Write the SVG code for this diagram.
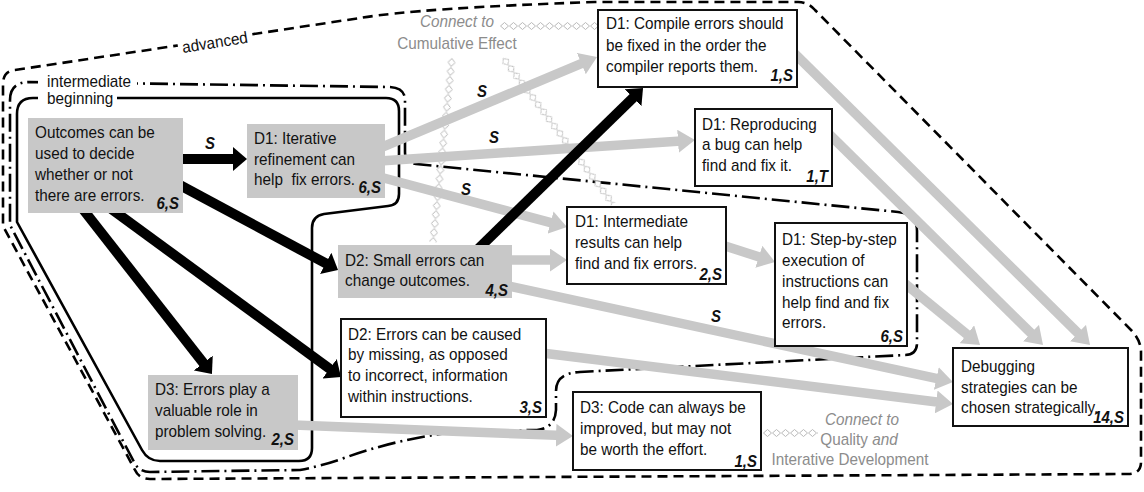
<svg xmlns="http://www.w3.org/2000/svg" width="1144" height="492" viewBox="0 0 1144 492">
<style>
.t{font-family:"Liberation Sans",Arial,sans-serif;font-size:15.3px;fill:#111}
.lb{font-family:"Liberation Sans",Arial,sans-serif;font-size:15px;font-weight:bold;font-style:italic;fill:#111}
.cn{font-family:"Liberation Sans",Arial,sans-serif;font-size:15.3px;fill:#8c8c8c}
.it{font-style:italic}
.gb{fill:#c8c8c8}
.wb{fill:#fff;stroke:#111;stroke-width:2}
.ga{stroke:#c8c8c8;stroke-width:9.5;fill:none;marker-end:url(#ag)}
.ba{stroke:#000;stroke-width:10;fill:none;marker-end:url(#ab)}
.reg{fill:none;stroke:#000;stroke-width:2.6}
</style>
<defs>
<marker id="ag" markerUnits="userSpaceOnUse" markerWidth="17" markerHeight="23" viewBox="0 0 17 23" refX="7" refY="11.5" orient="auto"><path d="M0,0 L17,11.5 L0,23 Z" fill="#c8c8c8"/></marker>
<marker id="ab" markerUnits="userSpaceOnUse" markerWidth="14" markerHeight="24" viewBox="0 0 14 24" refX="5" refY="12" orient="auto"><path d="M0,0 L14,12 L0,24 Z" fill="#000"/></marker>
<pattern id="dia" patternUnits="userSpaceOnUse" width="9" height="8" y="-4"><path d="M0.5,4 L4.5,0.5 L8.5,4 L4.5,7.5 Z" fill="#fff" stroke="#b8b8b8" stroke-width="1"/></pattern>
</defs>

<g id="regions">
<path id="advanced" class="reg" stroke-dasharray="10 6" stroke-width="2.8" d="M 15 70 L 360 18 Q 420 8 595 2 H 798 Q 808 2 815 10 L 1132 331 Q 1141 341 1141 352 V 462 Q 1141 474 1128 474 L 150 479 Q 139 479 135 470 L 3 226 V 84 Q 3 71 15 70 Z"/>
<path id="intermediate" class="reg" stroke-dasharray="18 5 2 5" d="M 30 82 L 390 87 Q 405 88 405 100 V 152 Q 405 163 416 164 L 898 212 Q 917 214 917 231 V 343 Q 917 355 905 355 L 580 372 Q 556 373 556 391 V 410 Q 555 428 537 430 L 463 431 Q 400 438 347 457 Q 322 466 300 470 L 150 472 Q 139 472 134 462 L 10 225 V 100 Q 10 82 30 82"/>
<path id="beginning" class="reg" d="M 33 98 H 386 Q 399 98 399 111 V 194 Q 399 205 388 206 L 324 214 Q 312 216 312 228 V 448 Q 312 461 299 461 H 160 Q 148 461 142 450 L 17 222 V 114 Q 17 98 33 98 Z"/>
<g transform="translate(183,53) rotate(-9)"><rect x="-4" y="-15" width="74" height="20" fill="#fff"/><text class="t" x="0" y="0" transform="scale(1,1.07)">advanced</text></g>
<rect x="38" y="73" width="99" height="18" fill="#fff"/>
<rect x="38" y="90" width="79" height="19" fill="#fff"/>
<g transform="scale(1,1.07)">
<text class="t" x="47" y="81.31">intermediate</text>
<text class="t" x="47" y="97.2">beginning</text>
</g>
</g>

<g id="connect-links">
<rect transform="translate(500,26)" x="0" y="-4" width="97" height="8" fill="url(#dia)"/>
<rect transform="translate(452,58) rotate(95.9)" x="0" y="-4" width="185" height="8" fill="url(#dia)"/>
<rect transform="translate(503,58) rotate(53)" x="0" y="-4" width="183" height="8" fill="url(#dia)"/>
<rect transform="translate(763,433)" x="0" y="-4" width="55" height="8" fill="url(#dia)"/>
</g>

<g id="connectors">
<line class="ga" x1="380" y1="148" x2="587.8" y2="60.9"/>
<line class="ga" x1="380" y1="161" x2="685" y2="140.7"/>
<line class="ga" x1="380" y1="177" x2="557.3" y2="224.4"/>
<line class="ga" x1="508" y1="260" x2="557" y2="260"/>
<line class="ga" x1="508" y1="286" x2="943.2" y2="379.9"/>
<line class="ga" x1="542" y1="353" x2="943.1" y2="402.8"/>
<line class="ga" x1="294" y1="425" x2="563" y2="435.6"/>
<line class="ga" x1="722" y1="245" x2="765.5" y2="258.9"/>
<line class="ga" x1="903" y1="282" x2="972.3" y2="338.7"/>
<line class="ga" x1="828" y1="133" x2="1035.9" y2="338"/>
<line class="ga" x1="793" y1="52" x2="1082.9" y2="338"/>
<line class="ba" x1="180" y1="159" x2="238" y2="159"/>
<line class="ba" x1="176" y1="183" x2="330.1" y2="265.7"/>
<line class="ba" x1="110" y1="208" x2="333.7" y2="371.7"/>
<line class="ba" x1="82" y1="208" x2="206.4" y2="366.9"/>
<line class="ba" x1="477" y1="250" x2="636.6" y2="94.3"/>
<g transform="scale(1,1.07)">
<text class="lb" x="210" y="139.25" text-anchor="middle">S</text>
<text class="lb" x="482" y="90.65" text-anchor="middle">S</text>
<text class="lb" x="494" y="133.64" text-anchor="middle">S</text>
<text class="lb" x="466" y="182.24" text-anchor="middle">S</text>
<text class="lb" x="716" y="300.93" text-anchor="middle">S</text>
</g>
</g>

<g id="n1"><rect class="gb" x="28" y="118" width="155" height="95"/>
<g transform="scale(1,1.07)"><text class="t"><tspan x="35" y="128.97">Outcomes can be</tspan><tspan x="35" y="148.6">used to decide</tspan><tspan x="35" y="168.22">whether or not</tspan><tspan x="35" y="187.85">there are errors.</tspan></text>
<text class="lb" x="179" y="195.33" text-anchor="end">6,S</text></g></g>

<g id="n2"><rect class="gb" x="247" y="124" width="138" height="74"/>
<g transform="scale(1,1.07)"><text class="t"><tspan x="254" y="134.58">D1: Iterative</tspan><tspan x="254" y="154.21">refinement can</tspan><tspan x="254" y="172.9">help&#160; fix errors.</tspan></text>
<text class="lb" x="381" y="180.37" text-anchor="end">6,S</text></g></g>

<g id="n3"><rect class="wb" x="598" y="10" width="199" height="77"/>
<g transform="scale(1,1.07)"><text class="t"><tspan x="606" y="27.1">D1: Compile errors should</tspan><tspan x="606" y="47.66">be fixed in the order the</tspan><tspan x="606" y="67.29">compiler reports them.</tspan></text>
<text class="lb" x="793" y="75.7" text-anchor="end">1,S</text></g></g>

<g id="n4"><rect class="wb" x="695" y="109" width="137" height="77"/>
<g transform="scale(1,1.07)"><text class="t"><tspan x="702" y="121.5">D1: Reproducing</tspan><tspan x="702" y="140.19">a bug can help</tspan><tspan x="702" y="159.81">find and fix it.</tspan></text>
<text class="lb" x="828" y="170.09" text-anchor="end">1,T</text></g></g>

<g id="n5"><rect class="wb" x="567" y="207" width="159" height="77"/>
<g transform="scale(1,1.07)"><text class="t"><tspan x="575" y="212.15">D1: Intermediate</tspan><tspan x="575" y="231.78">results can help</tspan><tspan x="575" y="251.4">find and fix errors.</tspan></text>
<text class="lb" x="722" y="261.68" text-anchor="end">2,S</text></g></g>

<g id="n6"><rect class="wb" x="775" y="223" width="132" height="123"/>
<g transform="scale(1,1.07)"><text class="t"><tspan x="782" y="228.97">D1: Step-by-step</tspan><tspan x="782" y="248.6">execution of</tspan><tspan x="782" y="268.22">instructions can</tspan><tspan x="782" y="287.85">help find and fix</tspan><tspan x="782" y="306.54">errors.</tspan></text>
<text class="lb" x="903" y="319.63" text-anchor="end">6,S</text></g></g>

<g id="n7"><rect class="wb" x="953" y="348" width="175" height="78"/>
<g transform="scale(1,1.07)"><text class="t"><tspan x="961" y="347.66">Debugging</tspan><tspan x="961" y="367.29">strategies can be</tspan><tspan x="961" y="385.98">chosen strategically.</tspan></text>
<text class="lb" x="1124" y="395.33" text-anchor="end">14,S</text></g></g>

<g id="n8"><rect class="gb" x="338" y="245" width="174" height="53"/>
<g transform="scale(1,1.07)"><text class="t"><tspan x="345" y="248.6">D2: Small errors can</tspan><tspan x="345" y="267.29">change outcomes.</tspan></text>
<text class="lb" x="508" y="276.64" text-anchor="end">4,S</text></g></g>

<g id="n9"><rect class="wb" x="341" y="319" width="205" height="98"/>
<g transform="scale(1,1.07)"><text class="t"><tspan x="348" y="317.76">D2: Errors can be caused</tspan><tspan x="348" y="336.45">by missing, as opposed</tspan><tspan x="348" y="356.07">to incorrect, information</tspan><tspan x="348" y="375.7">within instructions.</tspan></text>
<text class="lb" x="542" y="385.98" text-anchor="end">3,S</text></g></g>

<g id="n10"><rect class="gb" x="148" y="375" width="150" height="75"/>
<g transform="scale(1,1.07)"><text class="t"><tspan x="155" y="369.16">D3: Errors play a</tspan><tspan x="155" y="388.79">valuable role in</tspan><tspan x="155" y="408.41">problem solving.</tspan></text>
<text class="lb" x="294" y="415.89" text-anchor="end">2,S</text></g></g>

<g id="n11"><rect class="wb" x="573" y="392" width="188" height="78"/>
<g transform="scale(1,1.07)"><text class="t"><tspan x="580" y="385.98">D3: Code can always be</tspan><tspan x="580" y="405.61">improved, but may not</tspan><tspan x="580" y="425.23">be worth the effort.</tspan></text>
<text class="lb" x="757" y="436.45" text-anchor="end">1,S</text></g></g>

<g id="connect-cumulative" transform="scale(1,1.07)">
<text class="cn it" x="457" y="25.23" text-anchor="middle">Connect to</text>
<text class="cn" x="457" y="45.79" text-anchor="middle">Cumulative Effect</text>
</g>
<g id="connect-quality" transform="scale(1,1.07)">
<text class="cn it" x="862" y="397.2" text-anchor="middle">Connect to</text>
<text class="cn" x="859" y="415.89" text-anchor="middle">Quality <tspan class="it">and</tspan></text>
<text class="cn" x="850" y="434.58" text-anchor="middle">Interative Development</text>
</g>
</svg>
